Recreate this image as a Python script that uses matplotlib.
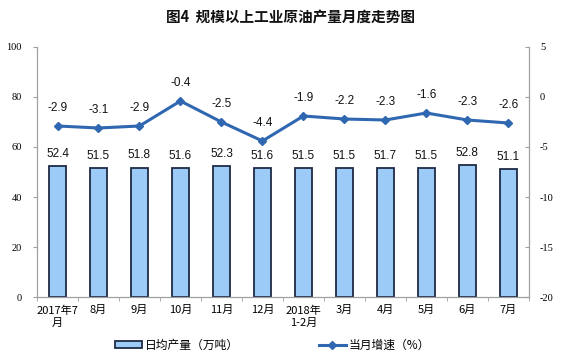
import matplotlib
matplotlib.use("Agg")
import matplotlib.pyplot as plt
import numpy as np
from matplotlib.patches import Patch
from matplotlib.lines import Line2D

plt.rcParams['font.family'] = ['Noto Sans CJK SC', 'DejaVu Sans']

categories = ["2017年7\n月", "8月", "9月", "10月", "11月", "12月", "2018年\n1-2月",
              "3月", "4月", "5月", "6月", "7月"]
output = [52.4, 51.5, 51.8, 51.6, 52.3, 51.6, 51.5, 51.5, 51.7, 51.5, 52.8, 51.1]
growth = [-2.9, -3.1, -2.9, -0.4, -2.5, -4.4, -1.9, -2.2, -2.3, -1.6, -2.3, -2.6]
left_ticks = [0, 20, 40, 60, 80, 100]
right_ticks = [-20, -15, -10, -5, 0, 5]

bar_face = "#9DCBF7"
bar_edge = "#1E2B45"
line_col = "#2F67B1"
axis_col = "#A0A0A0"

fig = plt.figure(figsize=(5.65, 3.56), dpi=100)
ax = fig.add_axes([0.0655, 0.1657, 0.8705, 0.7023])
ax2 = ax.twinx()

x = np.arange(len(categories))
ax.bar(x, output, width=0.42, color=bar_face, edgecolor=bar_edge, linewidth=1.3, zorder=2)
for xi, v in zip(x, output):
    ax.text(xi, v + 2.5, f"{v}", ha="center", va="bottom", fontsize=8.5,
            family="Liberation Sans", color="#111111")

ax.set_xlim(-0.5, len(categories) - 0.5)
ax.set_ylim(0, 100)
ax.set_yticks(left_ticks)
ax.set_yticklabels([str(t) for t in left_ticks], family="Liberation Serif", fontsize=7.5)
ax.set_xticks(x)
ax.set_xticklabels(categories, fontsize=8, linespacing=1.25)
ax.set_xticks(np.arange(-0.5, len(categories), 1), minor=True)
ax.tick_params(axis="x", which="major", length=0, pad=6)
ax.tick_params(axis="x", which="minor", length=3, color=axis_col, direction="out")
ax.tick_params(axis="y", length=3, color=axis_col, direction="out", pad=8)

ax2.plot(x, growth, color=line_col, linewidth=2.2, marker="D", markersize=4, zorder=3)
for xi, v in zip(x, growth):
    ax2.text(xi, v + 1.2, f"{v}", ha="center", va="bottom", fontsize=8.5,
             family="Liberation Sans", color="#111111")
ax2.set_ylim(-20, 5)
ax2.set_yticks(right_ticks)
ax2.set_yticklabels([str(t) for t in right_ticks], family="Liberation Serif", fontsize=7.5)
ax2.tick_params(axis="y", length=3, color=axis_col, direction="in", pad=8)

for a in (ax, ax2):
    a.spines["top"].set_visible(False)
    for s in ("left", "right", "bottom"):
        a.spines[s].set_color(axis_col)
        a.spines[s].set_linewidth(0.9)
ax.spines["right"].set_visible(False)
ax2.spines["left"].set_visible(False)
ax2.spines["bottom"].set_visible(False)

fig.text(0.515, 0.95, "图4  规模以上工业原油产量月度走势图", ha="center", va="center",
         fontsize=10.5, fontweight="bold", color="#111111")

handles = [Patch(facecolor=bar_face, edgecolor=bar_edge, linewidth=1.3),
           Line2D([0], [0], color=line_col, linewidth=2.2, marker="D", markersize=4)]
labels = ["日均产量（万吨）", "当月增速（%）"]
fig.legend(handles, labels, loc="center", bbox_to_anchor=(0.482, 0.03), ncol=2,
           frameon=False, fontsize=8.5, columnspacing=6.8, handlelength=2.3,
           handletextpad=0.2, handleheight=0.5)

fig.savefig("out.png", dpi=100)
